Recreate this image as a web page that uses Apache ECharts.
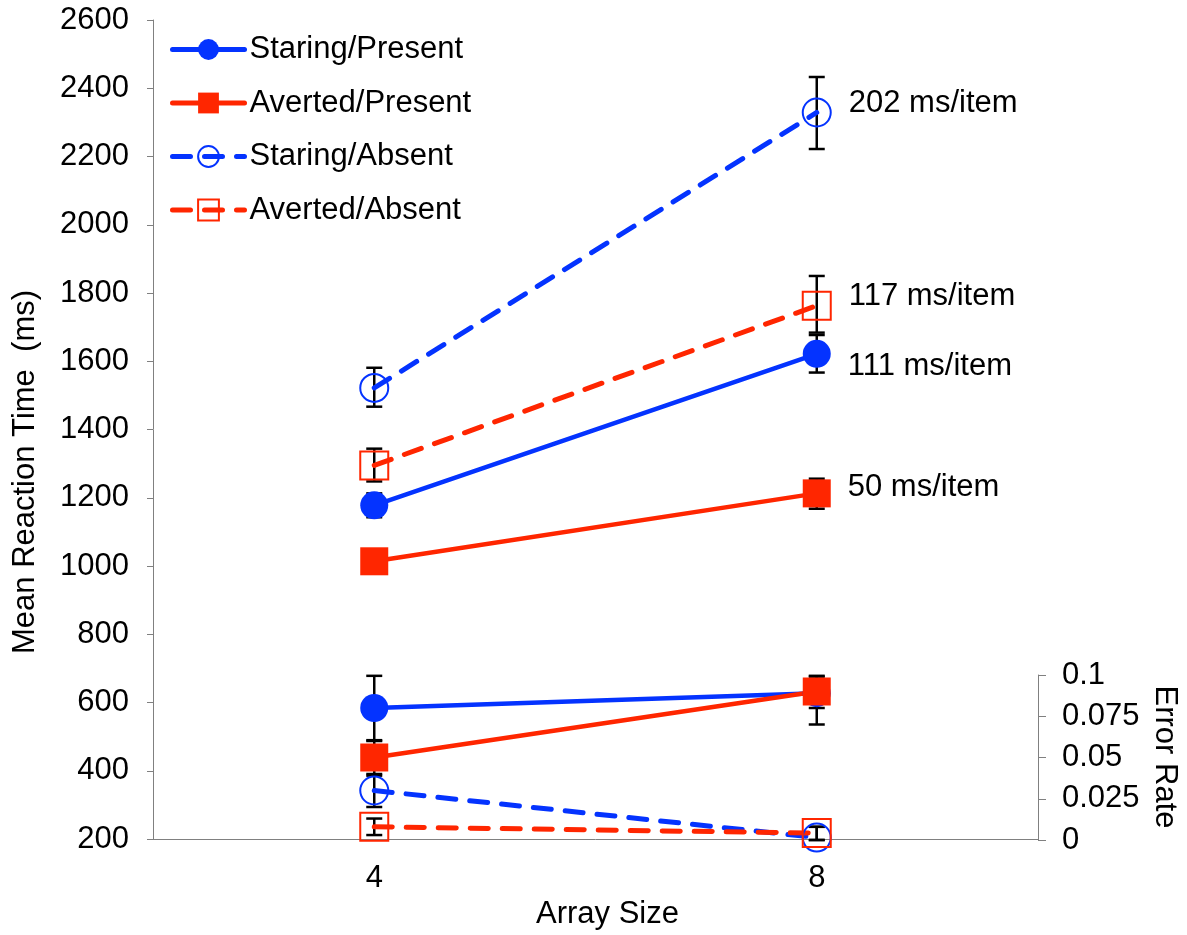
<!DOCTYPE html>
<html>
<head>
<meta charset="utf-8">
<script src="https://cdn.jsdelivr.net/npm/echarts@6/dist/echarts.min.js"></script>
<style>
html,body{margin:0;padding:0;background:#fff;}
#chart{width:1187px;height:935px;}
</style>
</head>
<body>
<div id="chart"></div>
<script>
// ---------- data ----------
const categories = ['4', '8'];
const seriesNames = ['Staring/Present', 'Averted/Present', 'Staring/Absent', 'Averted/Absent'];

// mean reaction time (ms)
const rtStaringPresent = [1178, 1622];
const rtAvertedPresent = [1014, 1213];
const rtStaringAbsent  = [1522, 2329];
const rtAvertedAbsent  = [1295, 1763];

// reaction time error bars [low, high]
const rtErrStaringPresent = [[1143, 1213], [1567, 1677]];
const rtErrAvertedPresent = [[984, 1044], [1168, 1256]];
const rtErrStaringAbsent  = [[1467, 1581], [2222, 2433]];
const rtErrAvertedAbsent  = [[1248, 1344], [1684, 1850]];

// error rate
const erStaringPresent = [0.080, 0.089];
const erAvertedPresent = [0.050, 0.090];
const erStaringAbsent  = [0.030, 0.0015];
const erAvertedAbsent  = [0.008, 0.0042];

// error rate error bars [low, high]
const erErrStaringPresent = [[0.0605, 0.0995], [0.080, 0.099]];
const erErrAvertedPresent = [[0.039, 0.060], [0.070, 0.0995]];
const erErrStaringAbsent  = [[0.020, 0.040], [0, 0.008]];
const erErrAvertedAbsent  = [[0.003, 0.013], [0, 0.008]];

// slope annotations (per series, shown at array size 8)
const slopeLabels = ['111 ms/item', '50 ms/item', '202 ms/item', '117 ms/item'];

const rtTicks = { min: 200, max: 2600, interval: 200 };
const erTicks = { min: 0, max: 0.1, interval: 0.025 };

// ---------- styles ----------
const BLUE = '#0433FF';
const RED = '#FF2600';
const FONT = 'Liberation Sans, Arial, Helvetica, sans-serif';
const FS = 31;
const AXIS_GRAY = '#808080';

const styleDefs = [
  { color: BLUE, symbol: 'circle', filled: true, dashed: false, labelOffset: [0, 13] },
  { color: RED, symbol: 'rect', filled: true, dashed: false, labelOffset: [0, -6] },
  { color: BLUE, symbol: 'circle', filled: false, dashed: true, labelOffset: [0, -9] },
  { color: RED, symbol: 'rect', filled: false, dashed: true, labelOffset: [0, -9] }
];

const rtValues = [rtStaringPresent, rtAvertedPresent, rtStaringAbsent, rtAvertedAbsent];
const rtErrs = [rtErrStaringPresent, rtErrAvertedPresent, rtErrStaringAbsent, rtErrAvertedAbsent];
const erValues = [erStaringPresent, erAvertedPresent, erStaringAbsent, erAvertedAbsent];
const erErrs = [erErrStaringPresent, erErrAvertedPresent, erErrStaringAbsent, erErrAvertedAbsent];

function lineSeries(i, values, gridIdx, withLabel) {
  const s = styleDefs[i];
  return {
    name: seriesNames[i],
    type: 'line',
    xAxisIndex: gridIdx,
    yAxisIndex: gridIdx,
    z: 3,
    symbol: s.symbol,
    symbolSize: 28,
    showAllSymbol: true,
    lineStyle: { color: s.color, width: s.dashed ? 5 : 4.5, type: s.dashed ? [18, 14] : 'solid', cap: 'round' },
    itemStyle: s.filled
      ? { color: s.color, borderColor: s.color, borderWidth: 0 }
      : { color: 'rgba(255,255,255,0)', borderColor: s.color, borderWidth: 2 },
    emphasis: { disabled: true },
    data: values.map((v, k) => {
      const item = { value: v };
      if (withLabel && k === values.length - 1) {
        item.label = {
          show: true,
          position: 'right',
          distance: 17,
          offset: s.labelOffset,
          formatter: slopeLabels[i],
          color: '#000',
          fontFamily: FONT,
          fontSize: FS
        };
      }
      return item;
    })
  };
}

function errSeries(errs, gridIdx) {
  const data = [];
  errs.forEach(arr => arr.forEach((lh, k) => data.push([k, lh[0], lh[1]])));
  return {
    type: 'custom',
    xAxisIndex: gridIdx,
    yAxisIndex: gridIdx,
    z: 1,
    silent: true,
    encode: { x: 0, y: [1, 2] },
    renderItem: function (params, api) {
      const x = api.value(0);
      const pLo = api.coord([x, api.value(1)]);
      const pHi = api.coord([x, api.value(2)]);
      const w = 8;
      const st = { stroke: '#000', lineWidth: 2.5 };
      return {
        type: 'group',
        children: [
          { type: 'line', shape: { x1: pLo[0], y1: pLo[1], x2: pHi[0], y2: pHi[1] }, style: st },
          { type: 'line', shape: { x1: pLo[0] - w, y1: pLo[1], x2: pLo[0] + w, y2: pLo[1] }, style: st },
          { type: 'line', shape: { x1: pHi[0] - w, y1: pHi[1], x2: pHi[0] + w, y2: pHi[1] }, style: st }
        ]
      };
    },
    data: data
  };
}

const series = [];
series.push(errSeries(rtErrs, 0));
series.push(errSeries(erErrs, 1));
for (let i = 0; i < 4; i++) series.push(lineSeries(i, rtValues[i], 0, true));
for (let i = 0; i < 4; i++) series.push(lineSeries(i, erValues[i], 1, false));

const axisLabelStyle = { color: '#000', fontFamily: FONT, fontSize: FS };

const option = {
  animation: false,
  backgroundColor: '#fff',
  textStyle: { fontFamily: FONT },
  grid: [
    { left: 153, right: 149, top: 20, bottom: 95 },
    { left: 153, right: 149, top: 675, bottom: 95 }
  ],
  legend: {
    data: seriesNames,
    orient: 'vertical',
    left: 165,
    top: 29,
    itemWidth: 72,
    itemHeight: 26,
    itemGap: 22.5,
    itemTextGap: 5,
    selectedMode: false,
    lineStyle: { width: 5 },
    textStyle: { color: '#000', fontFamily: FONT, fontSize: FS, lineHeight: 30 }
  },
  xAxis: [
    {
      type: 'category',
      gridIndex: 0,
      data: categories,
      boundaryGap: true,
      axisLine: { lineStyle: { color: AXIS_GRAY, width: 1 } },
      axisTick: { alignWithLabel: true, length: 6, lineStyle: { color: AXIS_GRAY } },
      axisLabel: Object.assign({ margin: 24 }, axisLabelStyle),
      splitLine: { show: false },
      name: 'Array Size',
      nameLocation: 'middle',
      nameGap: 58,
      nameTextStyle: { color: '#000', fontFamily: FONT, fontSize: FS, padding: [0, 0, 0, 24] }
    },
    {
      type: 'category',
      gridIndex: 1,
      data: categories,
      boundaryGap: true,
      show: false
    }
  ],
  yAxis: [
    {
      type: 'value',
      gridIndex: 0,
      position: 'left',
      min: rtTicks.min,
      max: rtTicks.max,
      interval: rtTicks.interval,
      axisLine: { show: true, lineStyle: { color: AXIS_GRAY, width: 1 } },
      axisTick: { show: true, length: 6, lineStyle: { color: AXIS_GRAY } },
      axisLabel: Object.assign({ margin: 24, formatter: v => String(v) }, axisLabelStyle),
      splitLine: { show: false }
    },
    {
      type: 'value',
      gridIndex: 1,
      position: 'right',
      min: erTicks.min,
      max: erTicks.max,
      interval: erTicks.interval,
      axisLine: { show: true, lineStyle: { color: AXIS_GRAY, width: 1 } },
      axisTick: { show: true, length: 8, lineStyle: { color: AXIS_GRAY } },
      axisLabel: Object.assign({ margin: 24, formatter: v => String(v) }, axisLabelStyle),
      splitLine: { show: false }
    }
  ],
  graphic: [
    {
      type: 'text',
      x: 25,
      y: 472,
      rotation: Math.PI / 2,
      style: {
        text: 'Mean Reaction Time  (ms)',
        fill: '#000',
        font: FS + 'px ' + FONT,
        textAlign: 'center',
        textVerticalAlign: 'middle'
      }
    },
    {
      type: 'text',
      x: 1165,
      y: 757,
      rotation: -Math.PI / 2,
      style: {
        text: 'Error Rate',
        fill: '#000',
        font: FS + 'px ' + FONT,
        textAlign: 'center',
        textVerticalAlign: 'middle'
      }
    }
  ],
  series: series
};

const chart = echarts.init(document.getElementById('chart'), null, { renderer: 'canvas' });
chart.setOption(option);
</script>
</body>
</html>
